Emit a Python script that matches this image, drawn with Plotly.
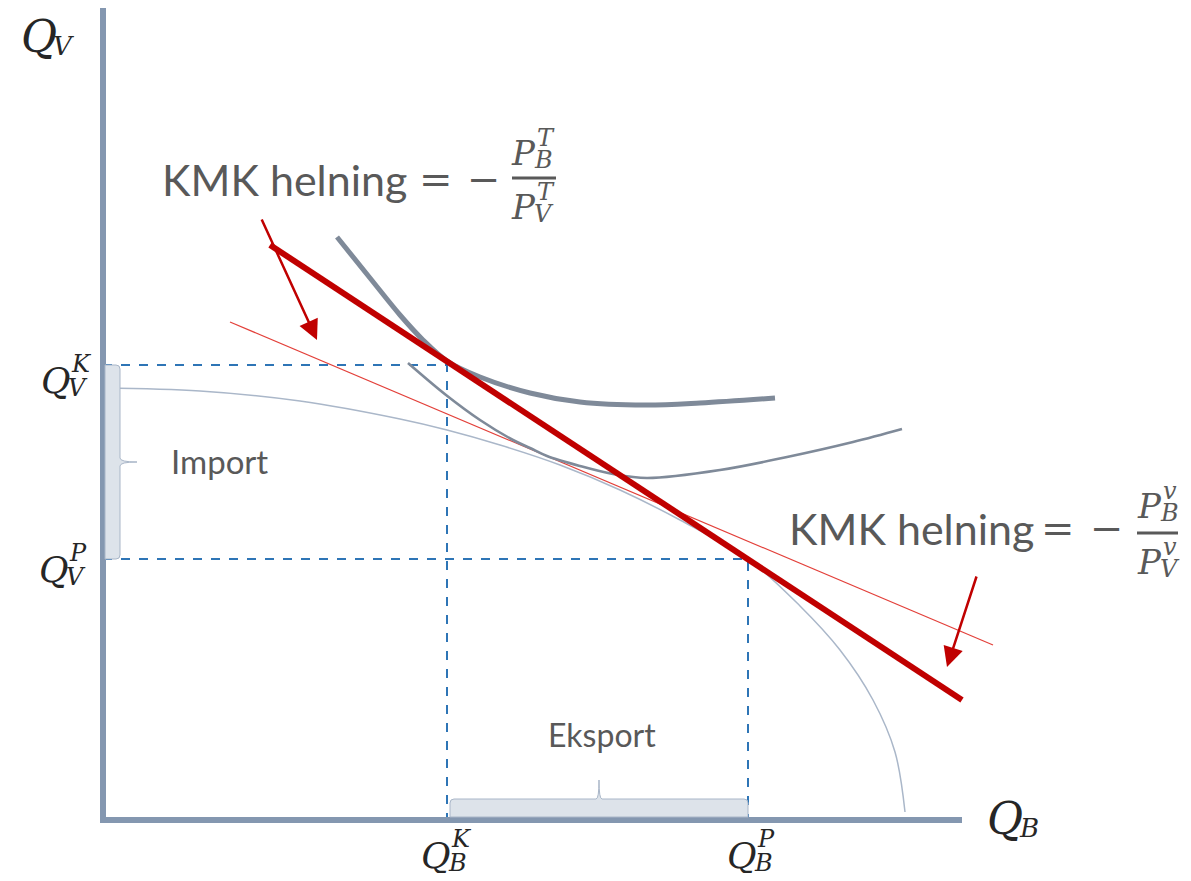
import plotly.graph_objects as go

# repère : origine des axes à (103, 820) px dans l'image, 1 unité = 1 px
ox, oy = 103, 820
W, H = 1191, 881
MARGE = 8  # marge par défaut du <body> de la page

# frontière des possibilités de production
fpp_qb = [0, 97, 197, 297, 344, 397, 457, 517, 577, 645, 697, 737, 770, 792, 802]
fpp_qv = [432, 429, 419, 401, 390, 375, 355, 330, 300, 261, 214, 170, 120, 68, 8]

# courbe d'indifférence haute (consommation avec commerce)
ci2_qb = [234, 267, 297, 320, 344, 377, 427, 477, 542, 597, 672]
ci2_qv = [583, 542, 505, 480, 459, 443, 427, 418, 415, 417, 422]

# courbe d'indifférence basse (autarcie)
ci1_qb = [305, 343, 377, 410, 427, 444, 477, 510, 544, 617, 684, 750, 799]
ci1_qv = [457, 425, 400, 380, 372, 364, 354, 346, 342, 350, 363, 378, 391]

# droites de prix (KMK)
kmk_T_qb = [167, 859]
kmk_T_qv = [575, 120]
kmk_v_qb = [127, 890]
kmk_v_qv = [498, 175]

# points de consommation (K) et de production (P)
qb_k, qv_k = 344, 455
qb_p, qv_p = 645, 261

# longueurs des axes
ax_x_end = 859
ax_y_end = 812

# flèches (queue -> pointe)
fleche_T = [(158, 602), (214, 480)]
fleche_v = [(874, 245), (844, 153)]

SERIF = "DejaVu Serif"
SANS = "Lato"
GRIS_TXT = "#595959"
NOIR = "#262626"
AXE = "#8497b0"
BLEU = "#2e75b6"
ROUGE = "#c00000"
ROUGE_FIN = "#e3403a"
GRIS_CI = "#7f8a99"
FPP_C = "#aab7c9"


def X(px):
    return px - ox


def Y(py):
    return oy - py


fig = go.Figure()

# pointillés vers les axes
fig.add_trace(go.Scatter(x=[0, qb_k, qb_k], y=[qv_k, qv_k, 0], mode="lines",
                         line=dict(color=BLEU, width=2, dash="dash")))
fig.add_trace(go.Scatter(x=[0, qb_p, qb_p], y=[qv_p, qv_p, 0], mode="lines",
                         line=dict(color=BLEU, width=2, dash="dash")))

fig.add_trace(go.Scatter(x=fpp_qb, y=fpp_qv, mode="lines", line_shape="spline",
                         line=dict(color=FPP_C, width=1.5)))
fig.add_trace(go.Scatter(x=kmk_v_qb, y=kmk_v_qv, mode="lines",
                         line=dict(color=ROUGE_FIN, width=1.2)))
fig.add_trace(go.Scatter(x=ci1_qb, y=ci1_qv, mode="lines", line_shape="spline",
                         line=dict(color=GRIS_CI, width=2.6)))
fig.add_trace(go.Scatter(x=ci2_qb, y=ci2_qv, mode="lines", line_shape="spline",
                         line=dict(color=GRIS_CI, width=5)))
fig.add_trace(go.Scatter(x=kmk_T_qb, y=kmk_T_qv, mode="lines",
                         line=dict(color=ROUGE, width=6)))

# axes
fig.add_shape(type="line", x0=0, y0=0, x1=0, y1=ax_y_end, line=dict(color=AXE, width=6))
fig.add_shape(type="line", x0=-3, y0=0, x1=ax_x_end, y1=0, line=dict(color=AXE, width=6))

# accolade import (verticale)
b, t = qv_p, qv_k
m = (b + t) / 2
fig.add_shape(type="path", line=dict(color="#a9b6c8", width=1), fillcolor="#dde3ea",
              path=f"M 2,{t} L 13,{t} Q 17,{t} 17,{t-4} L 17,{m+4} Q 17,{m} 34,{m} "
                   f"Q 17,{m} 17,{m-4} L 17,{b+4} Q 17,{b} 13,{b} L 2,{b} Z")
# accolade eksport (horizontale)
l, r = qb_k + 3, qb_p
c = (l + r) / 2
fig.add_shape(type="path", line=dict(color="#a9b6c8", width=1), fillcolor="#dde3ea",
              path=f"M {l},3 L {l},17 Q {l},21 {l+4},21 L {c-3},21 Q {c},21 {c},40 "
                   f"Q {c},21 {c+3},21 L {r-4},21 Q {r},21 {r},17 L {r},3 Z")

# flèches
for (tx, ty), (hx, hy) in [fleche_T, fleche_v]:
    fig.add_annotation(x=hx, y=hy, ax=tx, ay=ty, xref="x", yref="y", axref="x", ayref="y",
                       showarrow=True, arrowhead=2, arrowsize=1.6, arrowwidth=2.5,
                       arrowcolor=ROUGE, text="")


def txt(px, py, s, size, family=SERIF, color=NOIR, anchor="center"):
    fig.add_annotation(x=X(px), y=Y(py), text=s, showarrow=False, xanchor=anchor,
                       yanchor="middle", font=dict(family=family, size=size, color=color))


def sym(px, py, main, sup, sub, size, small, color=NOIR):
    # lettre principale + exposant et indice empilés
    txt(px, py, f"<i>{main}</i>", size, color=color)
    if sup:
        txt(px + size * 0.36, py - size * 0.44, f"<i>{sup}</i>", small, color=color, anchor="left")
    if sub:
        txt(px + size * 0.27, py + size * 0.22, f"<i>{sub}</i>", small, color=color, anchor="left")


# étiquettes des axes
sym(39, 36, "Q", None, "V", 44, 26)
sym(1005, 818, "Q", None, "B", 44, 26)
sym(56, 380, "Q", "K", "V", 36, 24)
sym(54, 569, "Q", "P", "V", 36, 24)
sym(436, 855, "Q", "K", "B", 36, 24)
sym(742, 855, "Q", "P", "B", 36, 24)

txt(219, 461, "Import", 33, SANS, GRIS_TXT)
txt(602, 734, "Eksport", 32, SANS, GRIS_TXT)

# KMK helning (T)
txt(160, 179, "KMK helning", 43, SANS, GRIS_TXT, "left")
txt(436, 179, "=", 40, SERIF, GRIS_TXT)
txt(484, 179, "−", 40, SERIF, GRIS_TXT)
fig.add_shape(type="line", x0=X(512), x1=X(556), y0=Y(178), y1=Y(178),
              line=dict(color=GRIS_TXT, width=3))
sym(523, 153, "P", "T", "B", 34, 24, GRIS_TXT)
sym(523, 207, "P", "T", "V", 34, 24, GRIS_TXT)

# KMK helning (v)
txt(787, 528, "KMK helning", 43, SANS, GRIS_TXT, "left")
txt(1058, 528, "=", 40, SERIF, GRIS_TXT)
txt(1107, 528, "−", 40, SERIF, GRIS_TXT)
fig.add_shape(type="line", x0=X(1137), x1=X(1178), y0=Y(533), y1=Y(533),
              line=dict(color=GRIS_TXT, width=3))
sym(1149, 506, "P", "v", "B", 34, 24, GRIS_TXT)
sym(1149, 562, "P", "v", "V", 34, 24, GRIS_TXT)

# la page ajoute une marge de 8 px : on décale les plages pour compenser
fig.update_layout(
    width=W - 2 * MARGE, height=H - 2 * MARGE, margin=dict(l=0, r=0, t=0, b=0),
    plot_bgcolor="white", paper_bgcolor="white", showlegend=False,
    xaxis=dict(range=[X(MARGE), X(W - MARGE)], visible=False, fixedrange=True),
    yaxis=dict(range=[Y(H - MARGE), Y(MARGE)], visible=False, fixedrange=True),
    hovermode=False,
)

fig.write_html("out.html", config={"displayModeBar": False})
